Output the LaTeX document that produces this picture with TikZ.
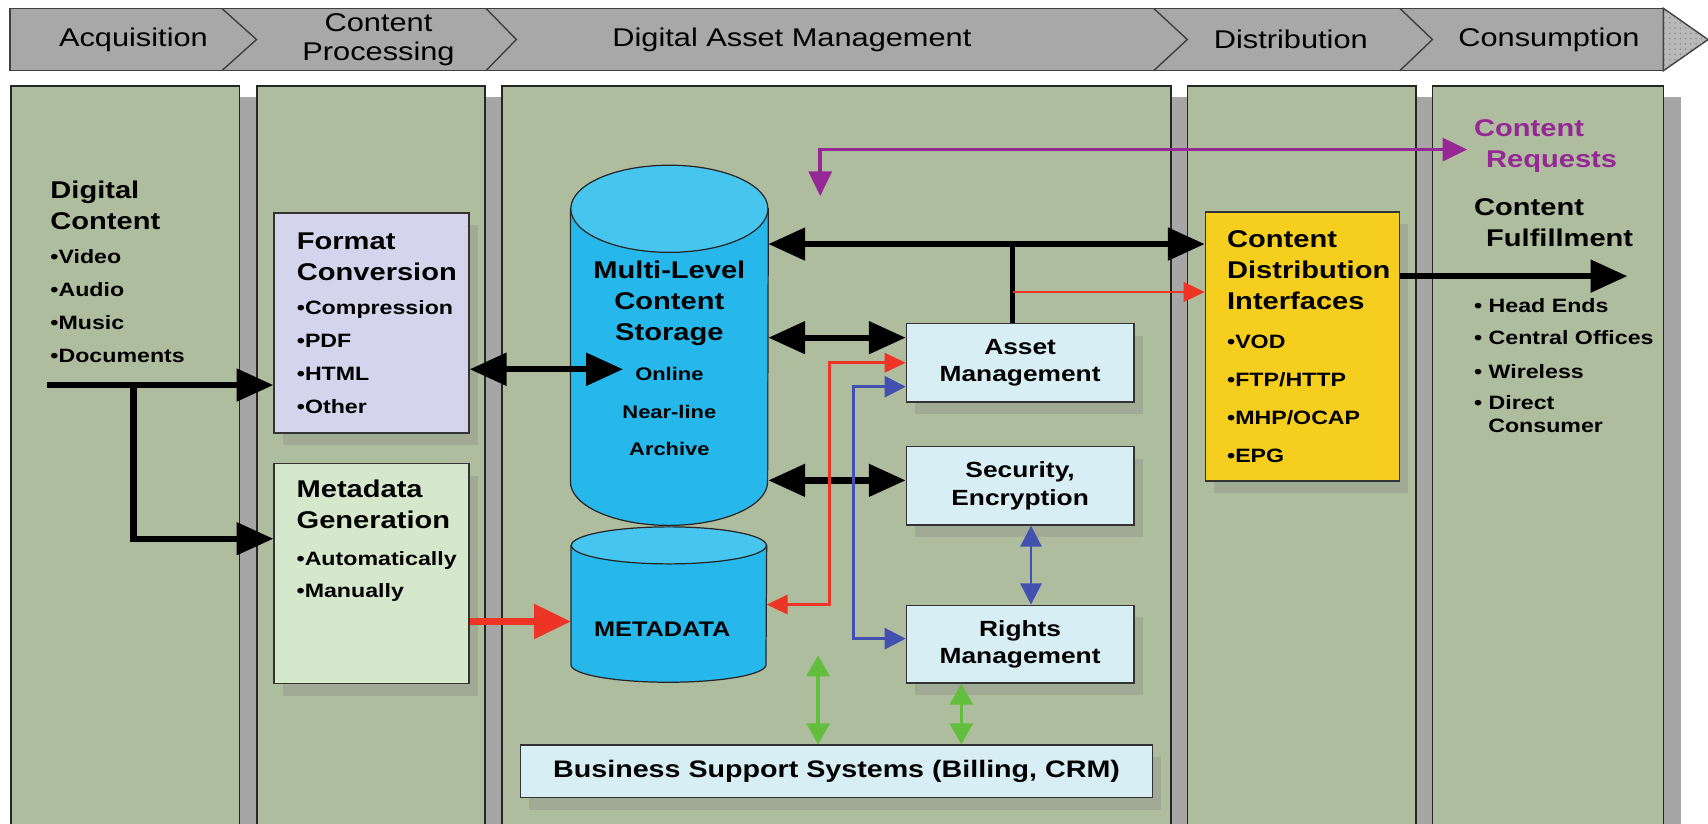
\documentclass[tikz,border=0pt]{standalone}
\usepackage{fontspec}
\setmainfont{Liberation Sans}[FakeStretch=1.2]
\usetikzlibrary{arrows.meta, positioning, shadows, patterns}
\usepackage{xcolor}
\definecolor{panelcolor}{RGB}{175,189,159}
\definecolor{bannercolor}{RGB}{168,168,168}
\definecolor{fmtcolor}{RGB}{212,212,236}
\definecolor{gencolor}{RGB}{214,232,204}
\definecolor{cylcolor}{RGB}{38,184,234}
\definecolor{cyltopcolor}{RGB}{70,197,239}
\definecolor{mgmtcolor}{RGB}{216,238,245}
\definecolor{cdicolor}{RGB}{246,206,30}
\definecolor{reqcolor}{RGB}{150,40,150}
\definecolor{redline}{RGB}{238,52,36}
\definecolor{blueline}{RGB}{66,80,176}
\definecolor{greenline}{RGB}{98,190,60}
\newdimen\dpx \dpx=0.0218cm
\newcommand*{\hd}{\fontsize{13.8pt}{17.6pt}\selectfont\bfseries}
\newcommand*{\itm}{\fontsize{11pt}{17.6pt}\selectfont\bfseries}
\newcommand*{\lvl}{\fontsize{10.4pt}{17.6pt}\selectfont\bfseries}
\newcommand*{\lbl}{\fontsize{12.5pt}{15.5pt}\selectfont\bfseries}

\begin{document}
\begin{tikzpicture}[x=0.0218cm, y=-0.0218cm,
    panel/.style={fill=panelcolor, draw=black!85, line width=0.9pt, drop shadow={shadow xshift=10pt, shadow yshift=-6pt, fill=black!35, opacity=1}},
    stage/.style={font=\fontsize{14.6pt}{16.5pt}\selectfont, align=center, inner sep=0pt},
    box/.style={draw=black!80, line width=0.7pt, inner sep=0pt, drop shadow={shadow xshift=5pt, shadow yshift=-7pt, opacity=0.3}},
    listbox/.style={box, anchor=north west, align=left, font=\itm, inner xsep=21\dpx},
    mgmt/.style={box, fill=mgmtcolor, minimum width=209\dpx, minimum height=72\dpx, align=center, font=\lbl},
    drum/.style={rectangle, inner sep=0pt},
    drumline/.style={draw=black!85, line width=0.7pt},
    big/.style={line width=3.6pt, >={Triangle[length=21pt,width=18pt]}},
    redbig/.style={draw=redline, line width=4pt, >={Triangle[length=21pt,width=19pt]}},
    redthin/.style={draw=redline, line width=1.5pt, >={Triangle[length=12pt,width=11pt]}},
    bluethin/.style={draw=blueline, line width=1.5pt, >={Triangle[length=12pt,width=12pt]}},
    greenthin/.style={draw=greenline, line width=2pt, >={Triangle[length=12pt,width=13pt]}},
    request/.style={draw=reqcolor, line width=2pt, >={Triangle[length=14pt,width=13pt]}}]
    \tikzstyle{txt} = [anchor=base west, inner sep=0pt, align=left, font=\itm]

    \useasboundingbox (0,0) rectangle (1568,756);
    \clip (0,0) rectangle (1568,756);

    % columns
    \foreach \l/\r in {10/220, 236/445, 461/1075, 1090/1300, 1315/1527}
      \filldraw[panel] (\l,79) rectangle (\r,780);

    % value chain banner
    \filldraw[fill=bannercolor, draw=black!75, line width=0.8pt] (9,7.6) rectangle (1527,65);
    \foreach \a/\b in {203.5/235.5, 446/474, 1059/1090, 1285/1315}
      \draw[black!75, line width=0.8pt] (\a,7.6) -- (\b,36.3) -- (\a,65);
    \filldraw[fill=gray!55, draw=black!75, line width=0.8pt, postaction={pattern=dots, pattern color=black!45}] (1527,7.6) -- (1568,36.3) -- (1527,65) -- cycle;
    \node[stage] (acq) at (122.5,36.3) {Acquisition};
    \node[stage] (proc) at (347.5,36.3) {Content\\Processing};
    \node[stage] (dam) at (727,36.3) {Digital Asset Management};
    \node[stage] (dist) at (1185,36.3) {Distribution};
    \node[stage] (cons) at (1422,36.3) {Consumption};

    % acquisition
    \node[txt, text width=160\dpx] (digital) at (46,182) {\hd Digital\\Content\\[2.2pt]\itm\textbullet Video\\[1.1pt]\textbullet Audio\\[1.1pt]\textbullet Music\\[1.1pt]\textbullet Documents};
    \coordinate (src) at (43,353.5);
    \coordinate (split) at (122.5,353.5);

    % content processing
    \node[listbox, fill=fmtcolor, minimum width=179\dpx, minimum height=202\dpx, text width=137\dpx] (fmt) at (251,195) {\hd Format\\Conversion\\[2.2pt]\itm\textbullet Compression\\[1.1pt]\textbullet PDF\\[1.1pt]\textbullet HTML\\[1.1pt]\textbullet Other};
    \node[box, fill=gencolor, anchor=north west, minimum width=179\dpx, minimum height=202\dpx] (metagen) at (251,425) {};
    \node[txt, text width=150\dpx] (gentxt) at (272,457) {\hd Metadata\\Generation\\[3.1pt]\itm\textbullet Automatically\\[0.6pt]\textbullet Manually};

    % digital asset management
    \node[drum, minimum width=181\dpx, minimum height=330\dpx] (store) at (614.5,317) {};
    \filldraw[drumline, fill=cylcolor] ([yshift=-40\dpx]store.north west) -- ([yshift=40\dpx]store.south west)
      arc[start angle=180, end angle=360, x radius=90.5\dpx, y radius=40\dpx] -- ([yshift=-40\dpx]store.north east) -- cycle;
    \filldraw[drumline, fill=cyltopcolor] ([yshift=-40\dpx]store.north) ellipse[x radius=90.5\dpx, y radius=40\dpx];
    \node[txt, anchor=base, align=center, text width=175\dpx] (storetxt) at (614.5,255.5) {\hd Multi-Level\\Content\\Storage\\[5.3pt]\lvl Online\\[4pt]Near-line\\[3.4pt]Archive};
    \node[drum, minimum width=179\dpx, minimum height=142\dpx] (meta) at (614,555) {};
    \filldraw[drumline, fill=cylcolor] ([yshift=-17\dpx]meta.north west) -- ([yshift=16\dpx]meta.south west)
      arc[start angle=180, end angle=360, x radius=89.5\dpx, y radius=16\dpx] -- ([yshift=-17\dpx]meta.north east) -- cycle;
    \filldraw[drumline, fill=cyltopcolor] ([yshift=-17\dpx]meta.north) ellipse[x radius=89.5\dpx, y radius=17\dpx];
    \node[txt, anchor=base, font=\fontsize{12pt}{14pt}\selectfont\bfseries] (metatxt) at (608,584.5) {METADATA};
    \node[mgmt] (asset) at (936.5,333) {Asset\\Management};
    \node[mgmt] (secur) at (936.5,446) {Security,\\Encryption};
    \node[mgmt, minimum height=71.5\dpx] (rights) at (936.5,591.3) {Rights\\Management};
    \node[mgmt, minimum width=580\dpx, minimum height=48\dpx, font=\fontsize{13.6pt}{16pt}\selectfont\bfseries] (bss) at (768,708) {Business Support Systems (Billing, CRM)};

    % distribution
    \node[listbox, fill=cdicolor, minimum width=178\dpx, minimum height=247\dpx, text width=138\dpx, inner xsep=20\dpx] (cdi) at (1106,194) {\hd Content\\Distribution\\Interfaces\\[4.9pt]\itm\textbullet VOD\\[3.9pt]\textbullet FTP/HTTP\\[3.9pt]\textbullet MHP/OCAP\\[3.9pt]\textbullet EPG};

    % consumption
    \node[txt, text width=190\dpx, text=reqcolor] (reqtxt) at (1353,125.6) {\hd Content\\\hspace*{11\dpx}Requests};
    \node[txt, text width=190\dpx] (fultxt) at (1353,197.6) {\hd Content\\\hspace*{11\dpx}Fulfillment};
    \node[txt, text width=190\dpx] (ends) at (1353,287) {\textbullet\ Head Ends\\[0.7pt]\textbullet\ Central Offices\\[1.8pt]\textbullet\ Wireless\\\textbullet\ Direct\\[-4.9pt]\hspace*{13\dpx}Consumer};

    % flows
    \draw[big, ->] (src) -- (src -| fmt.west);
    \draw[big, ->] (split) |- ([yshift=32\dpx]metagen.west);
    \coordinate (online) at (572,339);
    \draw[big, <->] (online -| fmt.east) -- (online);
    \coordinate (bus) at ([yshift=94\dpx]cdi.west);
    \draw[big, <->] (bus -| store.east) -- (bus);
    \draw[line width=3.2pt] ([xshift=-7\dpx]asset.north) -- ([xshift=-7\dpx]asset.north |- bus);
    \coordinate (redtap) at ([yshift=50\dpx]cdi.west);
    \draw[redthin, ->] ([xshift=-7\dpx]asset.north |- redtap) -- (redtap);
    \draw[big, <->] ([yshift=23\dpx]asset.west -| store.east) -- ([yshift=23\dpx]asset.west);
    \draw[big, <->] ([yshift=5\dpx]secur.west -| store.east) -- ([yshift=5\dpx]secur.west);
    \draw[redbig, ->] ([yshift=-44\dpx]metagen.east) -- ([yshift=-44\dpx]metagen.east -| meta.west);
    \draw[redthin, <->] (meta.east) -| ([xshift=-70\dpx]asset.west) -- (asset.west);
    \draw[bluethin, <->] ([yshift=-22\dpx]asset.west) -| ([xshift=-48\dpx,yshift=5\dpx]rights.west) -- ([yshift=5\dpx]rights.west);
    \draw[bluethin, <->] ([xshift=10\dpx]secur.south) -- ([xshift=10\dpx]rights.north);
    \coordinate (gtop) at (751,601.5);
    \draw[greenthin, <->] (gtop) -- (gtop |- bss.north);
    \draw[greenthin, <->] ([xshift=-54\dpx]rights.south) -- ([xshift=-54\dpx]rights.south |- bss.north);
    \coordinate (pdown) at (753,180);
    \draw[request, <->] (pdown) |- ([xshift=-6\dpx,yshift=-3\dpx]reqtxt.west);
    \coordinate (deliver) at (1494,253.5);
    \draw[big, ->] (deliver -| cdi.east) -- (deliver);
\end{tikzpicture}
\end{document}
